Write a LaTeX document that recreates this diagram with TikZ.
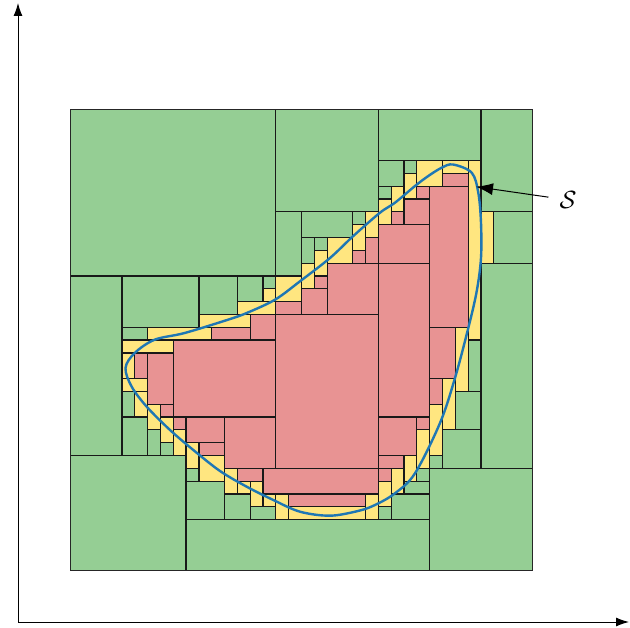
\documentclass[tikz,border=0pt]{standalone}
\usetikzlibrary{arrows.meta}
\definecolor{gcol}{RGB}{149,206,148}
\definecolor{ycol}{RGB}{255,230,128}
\definecolor{rcol}{RGB}{232,147,147}
\definecolor{bcol}{RGB}{31,119,180}
\tikzset{
  cell/.style={draw=black!90, line width=1.2pt},
  gcell/.style={cell, fill=gcol},
  ycell/.style={cell, fill=ycol},
  rcell/.style={cell, fill=rcol},
  axis/.style={line width=1pt, -{Latex[length=13pt,width=9pt]}},
  curve/.style={draw=bcol, line width=2.4pt},
  pointer/.style={line width=1pt, -{Latex[length=17pt,width=12pt]}}
}
\begin{document}
\begin{tikzpicture}[x=1pt,y=-1pt]
\useasboundingbox (0,0) rectangle (630,628);
\coordinate (origin) at (18,622);
\coordinate (ytop) at (18,3);
\coordinate (xend) at (629,622);
\draw[axis] (origin) -- (ytop);
\draw[axis] (origin) -- (xend);
\begin{scope}[shift={(70.7,109.3)}, x=12.822pt, y=-12.822pt]
\foreach \a/\b/\c/\d in {0/0/16/13, 16/0/24/8, 24/0/32/4, 32/0/36/8, 33/8/36/12, 32/12/36/28, 28/28/36/36, 9/32/28/36, 0/27/9/36, 0/13/4/27,
  4/13/10/17, 10/13/13/16, 13/13/15/15, 15/13/16/14, 4/17/6/18,
  16/8/18/13, 18/8/22/10, 22/8/23/9, 18/10/19/12, 19/10/20/11,
  24/4/26/6, 26/4/27/5, 24/6/25/7,
  31/18/32/22, 30/22/32/25, 29/25/32/28, 28/27/29/28,
  27/28/28/29, 26/29/28/30, 25/30/28/32, 24/31/25/32,
  4/22/5/24, 4/24/6/27, 6/25/7/27, 7/26/8/27, 9/28/10/29, 9/29/12/32, 12/30/14/32, 14/31/16/32}
  \draw[gcell] (\a,\b) rectangle (\c,\d);
\foreach \a/\b/\c/\d in {32/8/33/12, 27/4/29/6, 29/4/31/5, 31/4/32/18, 26/5/27/7, 25/6/26/8, 24/7/25/9,
  23/8/24/10, 22/9/23/11, 20/10/22/12, 19/11/20/13, 18/12/19/14, 16/13/18/15,
  15/14/16/15, 13/15/16/16, 10/16/14/17, 6/17/11/18, 4/18/8/19, 4/19/5/21, 4/21/6/22, 5/22/6/24, 6/23/7/25, 7/24/8/26, 8/25/9/27, 9/26/10/28, 10/27/12/29, 12/28/13/30, 13/29/14/30, 14/29/15/31, 15/30/16/31, 16/30/17/32, 17/31/23/32, 23/30/24/32, 24/29/25/31, 25/28/26/30, 26/27/27/29, 27/25/28/28, 28/23/29/27, 29/21/30/25, 30/17/31/22}
  \draw[ycell] (\a,\b) rectangle (\c,\d);
\foreach \a/\b/\c/\d in {29/5/31/6, 27/6/28/7, 28/6/31/17, 26/7/28/9, 25/8/26/9, 24/9/28/12, 24/12/28/24,
  22/11/23/12, 23/10/24/12, 20/12/24/16, 19/13/20/14, 18/14/20/16, 16/15/18/16,
  14/16/16/18, 11/17/14/18, 8/18/16/24, 5/19/6/21, 6/19/8/23, 7/23/8/24, 8/24/9/25, 9/24/12/26, 10/26/12/27, 12/24/16/28, 13/28/15/29, 15/28/24/30, 17/30/23/31, 16/16/24/28,
  28/17/30/21, 28/21/29/23, 24/24/27/27, 27/24/28/25, 24/27/26/28, 24/28/25/29}
  \draw[rcell] (\a,\b) rectangle (\c,\d);
\draw[draw=black!85, line width=1.2pt] (0,0) rectangle (36,36);
\end{scope}
\draw[curve] plot[smooth cycle, tension=0.55] coordinates {
(453,164.5) (471.7,172.7) (478.3,192.7) (481,222.7) (481,258) (476.7,291.3) (468.3,328) (455,378) (440,423) (415,473.3) (395,493.3) (375,505) (358,511) (330,515.7) (300,511.7) (273.3,500) (246.7,486.7) (220,471) (193.3,450) (170,430) (146.7,406.7) (131.7,386.7) (125.5,368) (134.7,353) (154.7,339.7) (184.7,333) (228,319.7) (246.7,313) (275,299.7) (300,281.3) (330,258) (353.3,236) (380,212.7) (395,202.7) (415,186) (428.3,176) (441.7,167.7)};
\node[font=\fontsize{31}{36}\selectfont, inner sep=0pt] (slabel) at (568,200) {$\mathcal{S}$};
\coordinate (stip) at (476,186.7);
\draw[pointer, shorten <=11pt] (slabel) -- (stip);
\end{tikzpicture}
\end{document}
